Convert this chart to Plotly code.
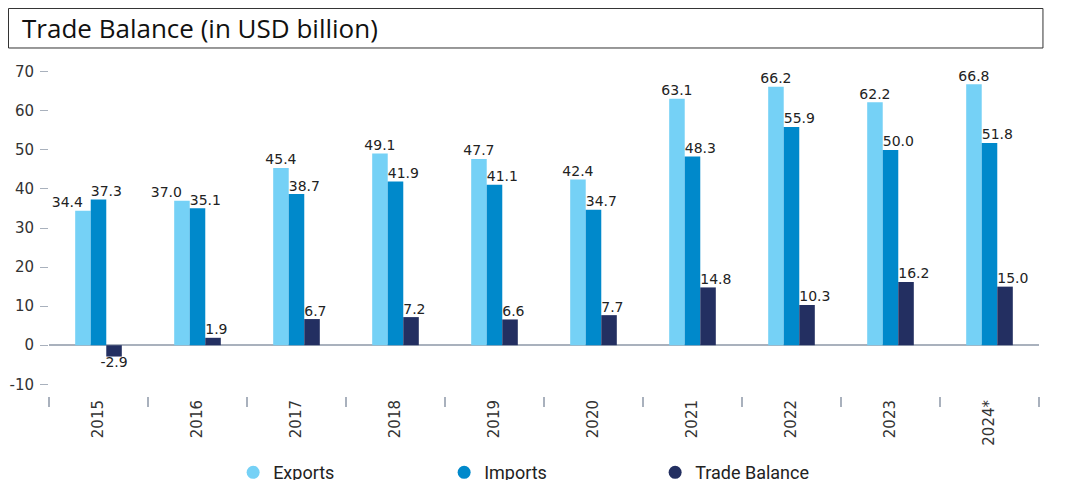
import plotly.graph_objects as go

years = ["2015", "2016", "2017", "2018", "2019", "2020", "2021", "2022", "2023", "2024*"]
exports = [34.4, 37.0, 45.4, 49.1, 47.7, 42.4, 63.1, 66.2, 62.2, 66.8]
imports = [37.3, 35.1, 38.7, 41.9, 41.1, 34.7, 48.3, 55.9, 50.0, 51.8]
trade_balance = [-2.9, 1.9, 6.7, 7.2, 6.6, 7.7, 14.8, 10.3, 16.2, 15.0]
y_ticks = [-10, 0, 10, 20, 30, 40, 50, 60, 70]

series = [
    ("Exports", exports, "#75D1F6"),
    ("Imports", imports, "#0089CB"),
    ("Trade Balance", trade_balance, "#232F61"),
]

idx = list(range(len(years)))
BW = 0.157  # bar width in category units
LABEL_FONT = dict(family="DejaVu Sans, Verdana, sans-serif", size=14, color="#222222")

fig = go.Figure()
for k, (name, vals, col) in enumerate(series):
    off = -1.5 * BW + k * BW
    fig.add_trace(go.Bar(
        x=idx, y=vals, name=name, width=BW, offset=off,
        marker=dict(color=col, line=dict(width=0)), showlegend=False,
    ))
    if k == 0:
        tx = [i + off + BW / 2 for i in idx]
        pos = ["top left" if i < 2 else "top center" for i in idx]
    else:
        tx = [i + off for i in idx]
        pos = ["bottom center" if v < 0 else "top right" for v in vals]
        tx = [t + BW / 2 if v < 0 else t for t, v in zip(tx, vals)]
    fig.add_trace(go.Scatter(
        x=tx, y=vals, mode="text", text=[f"{v:.1f}" for v in vals],
        textposition=pos, textfont=LABEL_FONT, showlegend=False,
        cliponaxis=False, hoverinfo="skip",
    ))
for name, vals, col in series:
    fig.add_trace(go.Scatter(
        x=[None], y=[None], mode="markers", name=name,
        marker=dict(color=col, size=13, symbol="circle"), showlegend=True,
    ))

fig.update_layout(
    width=1068, height=480,
    margin=dict(l=41, r=37, t=56, b=92, autoexpand=False),
    paper_bgcolor="white", plot_bgcolor="white",
    barmode="overlay",
    showlegend=True,
    legend=dict(orientation="h", x=0.186, xanchor="left", y=-0.175, yanchor="top",
                entrywidth=166, entrywidthmode="pixels", itemwidth=30,
                font=dict(family="Liberation Sans Narrow, Roboto, sans-serif", size=18, color="#222222")),
    xaxis=dict(
        range=[-0.5, len(years) - 0.5], tickvals=idx, ticktext=years,
        showgrid=False, showline=False, zeroline=False, automargin=False,
        ticks="", tickangle=-90,
        tickfont=dict(family="DejaVu Sans, Verdana, sans-serif", size=15, color="#333333"),
        minor=dict(ticks="outside", tick0=-0.5, dtick=1, ticklen=10, tickwidth=2,
                   tickcolor="#A9B1BD", showgrid=False),
    ),
    yaxis=dict(
        range=[-13, 72], tickvals=y_ticks, ticktext=[str(t) for t in y_ticks],
        automargin=False,
        showgrid=False, showline=False,
        zeroline=True, zerolinecolor="#A9B1BD", zerolinewidth=2,
        ticks="outside", ticklen=8, tickwidth=1, tickcolor="#A9B1BD",
        ticklabelstandoff=3,
        tickfont=dict(family="DejaVu Sans, Verdana, sans-serif", size=15, color="#333333"),
    ),
    shapes=[dict(type="rect", xref="paper", yref="paper",
                 x0=-0.0409, x1=1.004, y0=1.0482, y1=1.1672,
                 line=dict(color="#333333", width=1), fillcolor="rgba(0,0,0,0)")],
    annotations=[dict(text="Trade Balance (in USD billion)", xref="paper", yref="paper",
                      x=-0.0293, y=1.1084, xanchor="left", yanchor="middle", showarrow=False,
                      font=dict(family="Open Sans, sans-serif", size=26, color="#111111"))],
)

fig.write_html("out.html")
